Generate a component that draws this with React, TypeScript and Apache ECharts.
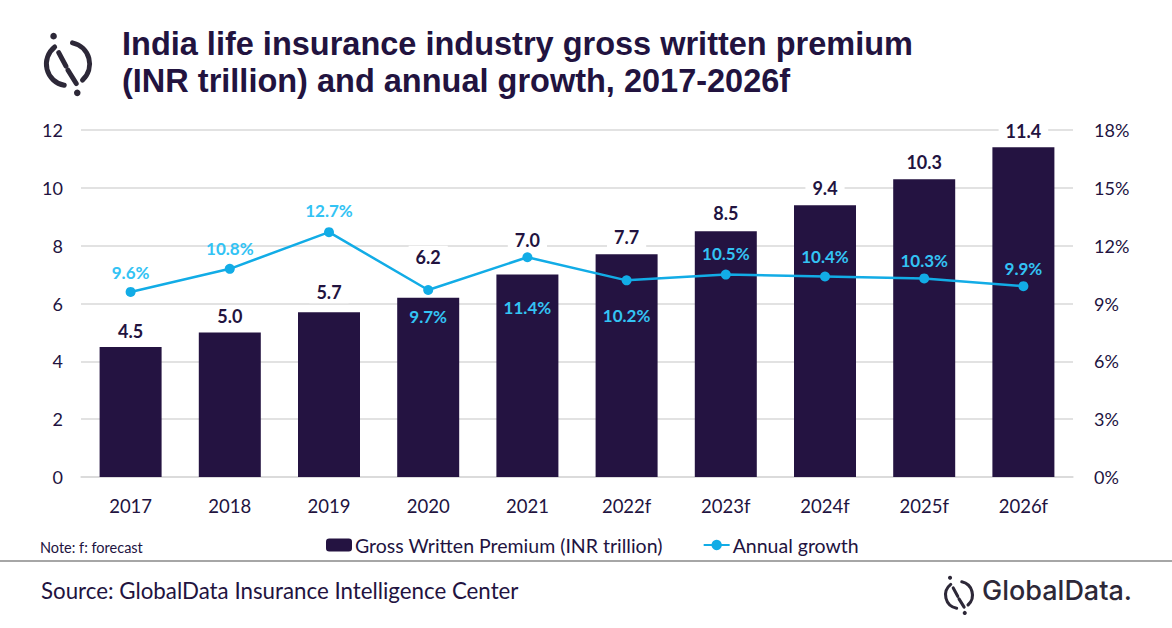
import React from 'react';
import * as echarts from 'echarts';

const years = ['2017', '2018', '2019', '2020', '2021', '2022f', '2023f', '2024f', '2025f', '2026f'];
const premium = [4.5, 5.0, 5.7, 6.2, 7.0, 7.7, 8.5, 9.4, 10.3, 11.4];
const growth = [9.6, 10.8, 12.7, 9.7, 11.4, 10.2, 10.5, 10.4, 10.3, 9.9];

// label placement (style only): growth labels above/below the point, bar labels lifted off the line
const growthLabelPos = ['top', 'top', 'top', 'bottom', 'bottom', 'bottom', 'top', 'top', 'top', 'top'];
const growthLabelGap = [6, 7, 8, 13, 37, 22, 8, 7, 4, 4];
const barLabelGap = [5, 5, 9, 30, 24, 6, 7, 6, 6, 5];

const titleLines = [
  'India life insurance industry gross written premium',
  '(INR trillion) and annual growth, 2017-2026f',
];

const DARK = '#22133f';
const BAR = '#241341';
const LINE = '#12ace6';
const LINE_LABEL = '#33c3f4';
const FONT = 'Lato, "Open Sans", sans-serif';

// GlobalData mark, drawn around (cx, cy) with scale s
const logoMark = (cx: number, cy: number, s: number, color: string) => {
  const st = { stroke: color, lineWidth: 4.8, fill: 'none', lineCap: 'round' };
  const deg = (d: number) => (d * Math.PI) / 180;
  return {
    type: 'group',
    x: cx,
    y: cy,
    scaleX: s,
    scaleY: s,
    children: [
      { type: 'arc', shape: { cx: 0, cy: 0, r: 21, startAngle: deg(100), endAngle: deg(232) }, style: st },
      { type: 'arc', shape: { cx: 0, cy: 0, r: 21, startAngle: deg(-78), endAngle: deg(48) }, style: st },
      { type: 'line', shape: { x1: -9, y1: -11, x2: -2, y2: 2 }, style: st },
      { type: 'line', shape: { x1: 0, y1: 6, x2: 8, y2: 19 }, style: st },
      { type: 'circle', shape: { cx: -14, cy: -27, r: 3.2 }, style: { fill: color } },
      { type: 'circle', shape: { cx: 9, cy: 28, r: 3.2 }, style: { fill: color } },
    ],
  };
};

const App: React.FC = () => {
  const chartRef = React.useRef<HTMLDivElement>(null);

  React.useEffect(() => {
    if (!chartRef.current) return;
    const chart = echarts.init(chartRef.current, null, { renderer: 'svg' });

    const option = {
      animation: false,
      backgroundColor: '#ffffff',
      textStyle: { fontFamily: FONT },
      grid: { left: 81, right: 99, top: 130, bottom: 151 },
      legend: {
        left: 321,
        top: 530,
        itemWidth: 26,
        itemHeight: 13,
        itemGap: 40,
        textStyle: { color: DARK, fontSize: 19.5, fontFamily: FONT, padding: [0, 0, 0, -2] },
        data: ['Gross Written Premium (INR trillion)', 'Annual growth'],
      },
      xAxis: {
        type: 'category',
        data: years,
        axisLine: { show: true, lineStyle: { color: '#d9d9d9', width: 1.5 } },
        axisTick: { show: false },
        axisLabel: { color: DARK, fontSize: 18.5, margin: 19 },
      },
      yAxis: [
        {
          type: 'value',
          min: 0,
          max: 12,
          interval: 2,
          axisLabel: { color: DARK, fontSize: 18, margin: 18 },
          splitLine: { lineStyle: { color: '#d9d9d9', width: 1.5 } },
          axisLine: { show: false },
          axisTick: { show: false },
        },
        {
          type: 'value',
          min: 0,
          max: 18,
          interval: 3,
          axisLabel: { color: DARK, fontSize: 18, margin: 21, formatter: '{value}%' },
          splitLine: { show: false },
          axisLine: { show: false },
          axisTick: { show: false },
        },
      ],
      series: [
        {
          name: 'Gross Written Premium (INR trillion)',
          type: 'bar',
          data: premium.map((v, i) => ({ value: v, label: { distance: barLabelGap[i] } })),
          barWidth: '62.5%',
          itemStyle: { color: BAR },
          label: {
            show: true,
            position: 'top',
            color: DARK,
            fontSize: 18,
            fontWeight: 'bold',
            backgroundColor: '#ffffff',
            padding: [2, 7],
            formatter: (p: any) => p.value.toFixed(1),
          },
          z: 2,
        },
        {
          name: 'Annual growth',
          type: 'line',
          yAxisIndex: 1,
          data: growth.map((v, i) => ({
            value: v,
            label: { position: growthLabelPos[i], distance: growthLabelGap[i] },
          })),
          symbol: 'circle',
          symbolSize: 10,
          lineStyle: { color: LINE, width: 2.5 },
          itemStyle: { color: LINE },
          label: {
            show: true,
            color: LINE_LABEL,
            fontSize: 17,
            fontWeight: 'bold',
            formatter: (p: any) => p.value.toFixed(1) + '%',
          },
          z: 3,
        },
      ],
      graphic: [
        logoMark(68, 64, 1.03, '#2d2838'),
        ...titleLines.map((t, i) => ({
          type: 'text',
          left: 122,
          top: 27 + i * 37,
          style: { text: t, fill: DARK, font: `bold 32.5px "Liberation Sans", ${FONT}` },
        })),
        {
          type: 'text',
          left: 40,
          top: 540,
          style: { text: 'Note: f: forecast', fill: DARK, font: `14.5px ${FONT}` },
        },
        {
          type: 'line',
          shape: { x1: 0, y1: 561, x2: 1172, y2: 561 },
          style: { stroke: '#a6a6a6', lineWidth: 2 },
        },
        {
          type: 'text',
          left: 41,
          top: 579,
          style: { text: 'Source: GlobalData Insurance Intelligence Center', fill: DARK, font: `22.3px ${FONT}` },
        },
        logoMark(959, 595, 0.64, '#2d2838'),
        {
          type: 'text',
          left: 982,
          top: 577,
          style: { text: 'GlobalData.', fill: '#2d2838', font: `500 27px Inter, ${FONT}` },
        },
      ],
    };

    chart.setOption(option);
    return () => chart.dispose();
  }, []);

  return (
    <div
      ref={chartRef}
      style={{ position: 'absolute', left: 0, top: 0, width: 1172, height: 628 }}
    />
  );
};

export default App;
